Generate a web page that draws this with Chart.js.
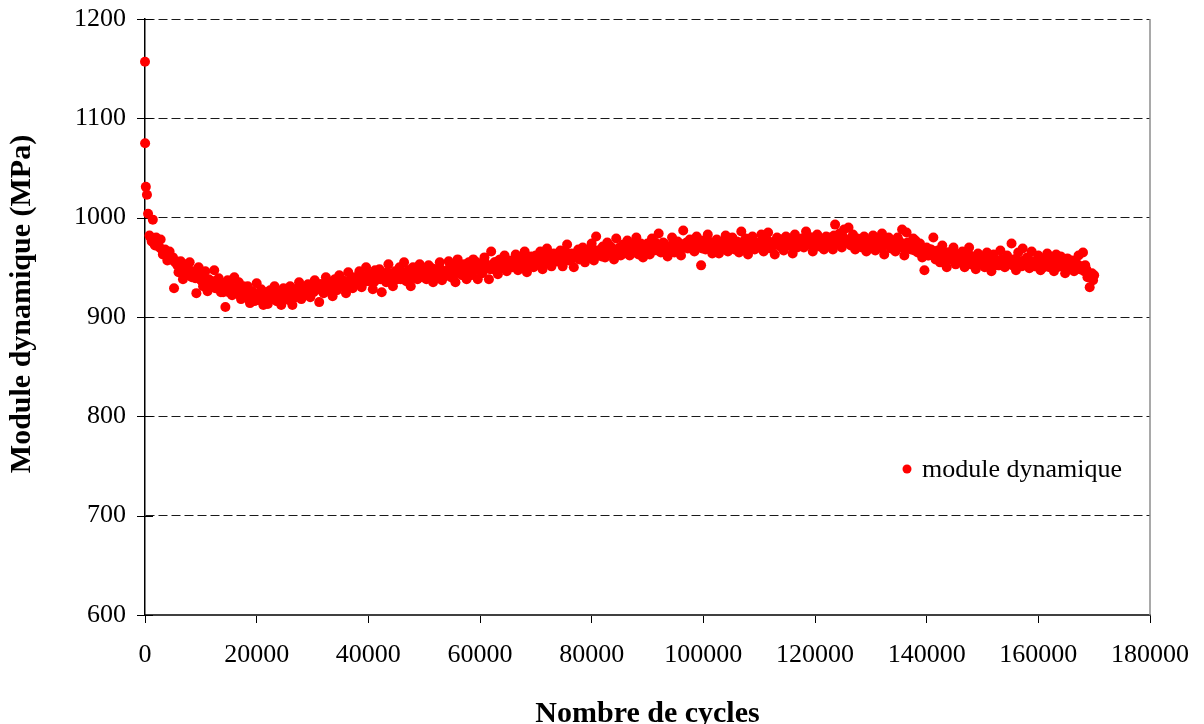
<!DOCTYPE html>
<html>
<head>
<meta charset="utf-8">
<script src="https://cdn.jsdelivr.net/npm/chart.js@4/dist/chart.umd.min.js"></script>
<style>
  html, body { margin: 0; padding: 0; background: #fff; }
  canvas { display: block; }
</style>
</head>
<body>
<canvas id="moduleChart" width="1204" height="724"></canvas>
<script>
// Nombre de cycles (x) and module dynamique in MPa (y)
// first pass: the spread of the cloud
const cyclesA = [
    0, 20, 150, 350, 550, 800, 1000, 1200, 1400, 1600, 1800,
    2000, 2400, 2800, 3200, 3600, 4000, 4400, 4800, 5200, 5600,
    6000, 6400, 6800, 7200, 7600, 8000, 8400, 8800, 9200, 9600,
    10000, 10400, 10800, 11200, 11600, 12000, 12400, 12800, 13200, 13600,
    14000, 14400, 14800, 15200, 15600, 16000, 16400, 16800, 17200, 17600,
    18000, 18400, 18800, 19200, 19600, 20000, 20400, 20800, 21200, 21600,
    22000, 22400, 22800, 23200, 23600, 24000, 24400, 24800, 25200, 25600,
    26000, 26400, 26800, 27200, 27600, 28000, 28400, 28800, 29200, 29600,
    30000, 30400, 30800, 31200, 31600, 32000, 32400, 32800, 33200, 33600,
    34000, 34400, 34800, 35200, 35600, 36000, 36400, 36800, 37200, 37600,
    38000, 38400, 38800, 39200, 39600, 40000, 40400, 40800, 41200, 41600,
    42000, 42400, 42800, 43200, 43600, 44000, 44400, 44800, 45200, 45600,
    46000, 46400, 46800, 47200, 47600, 48000, 48400, 48800, 49200, 49600,
    50000, 50400, 50800, 51200, 51600, 52000, 52400, 52800, 53200, 53600,
    54000, 54400, 54800, 55200, 55600, 56000, 56400, 56800, 57200, 57600,
    58000, 58400, 58800, 59200, 59600, 60000, 60400, 60800, 61200, 61600,
    62000, 62400, 62800, 63200, 63600, 64000, 64400, 64800, 65200, 65600,
    66000, 66400, 66800, 67200, 67600, 68000, 68400, 68800, 69200, 69600,
    70000, 70400, 70800, 71200, 71600, 72000, 72400, 72800, 73200, 73600,
    74000, 74400, 74800, 75200, 75600, 76000, 76400, 76800, 77200, 77600,
    78000, 78400, 78800, 79200, 79600, 80000, 80400, 80800, 81200, 81600,
    82000, 82400, 82800, 83200, 83600, 84000, 84400, 84800, 85200, 85600,
    86000, 86400, 86800, 87200, 87600, 88000, 88400, 88800, 89200, 89600,
    90000, 90400, 90800, 91200, 91600, 92000, 92400, 92800, 93200, 93600,
    94000, 94400, 94800, 95200, 95600, 96000, 96400, 96800, 97200, 97600,
    98000, 98400, 98800, 99200, 99600, 100000, 100400, 100800, 101200, 101600,
    102000, 102400, 102800, 103200, 103600, 104000, 104400, 104800, 105200, 105600,
    106000, 106400, 106800, 107200, 107600, 108000, 108400, 108800, 109200, 109600,
    110000, 110400, 110800, 111200, 111600, 112000, 112400, 112800, 113200, 113600,
    114000, 114400, 114800, 115200, 115600, 116000, 116400, 116800, 117200, 117600,
    118000, 118400, 118800, 119200, 119600, 120000, 120400, 120800, 121200, 121600,
    122000, 122400, 122800, 123200, 123600, 124000, 124400, 124800, 125200, 125600,
    126000, 126400, 126800, 127200, 127600, 128000, 128400, 128800, 129200, 129600,
    130000, 130400, 130800, 131200, 131600, 132000, 132400, 132800, 133200, 133600,
    134000, 134400, 134800, 135200, 135600, 136000, 136400, 136800, 137200, 137600,
    138000, 138400, 138800, 139200, 139600, 140000, 140400, 140800, 141200, 141600,
    142000, 142400, 142800, 143200, 143600, 144000, 144400, 144800, 145200, 145600,
    146000, 146400, 146800, 147200, 147600, 148000, 148400, 148800, 149200, 149600,
    150000, 150400, 150800, 151200, 151600, 152000, 152400, 152800, 153200, 153600,
    154000, 154400, 154800, 155200, 155600, 156000, 156400, 156800, 157200, 157600,
    158000, 158400, 158800, 159200, 159600, 160000, 160400, 160800, 161200, 161600,
    162000, 162400, 162800, 163200, 163600, 164000, 164400, 164800, 165200, 165600,
    166000, 166400, 166800, 167200, 167600, 168000, 168400, 168800, 169200, 169600,
    170000
];
const modulusA = [
    1157, 1075, 1031, 1023, 1004, 982, 980, 976, 998, 974, 972,
    980, 972, 978, 963, 968, 957, 966, 958, 929, 956,
    945, 956, 938, 951, 943, 955, 940, 946, 924, 950,
    941, 931, 946, 926, 937, 932, 947, 929, 939, 925,
    925, 910, 937, 933, 922, 940, 927, 935, 918, 931,
    925, 931, 914, 926, 916, 934, 921, 928, 912, 925,
    913, 927, 918, 931, 916, 924, 912, 929, 920, 926,
    931, 912, 928, 922, 935, 918, 929, 924, 933, 920,
    926, 937, 931, 915, 933, 924, 940, 928, 935, 921,
    938, 927, 942, 931, 936, 924, 945, 933, 929, 940,
    935, 946, 930, 941, 950, 936, 943, 928, 947, 939,
    948, 925, 944, 935, 953, 940, 931, 946, 938, 950,
    940, 955, 936, 947, 931, 950, 944, 938, 953, 941,
    949, 938, 952, 943, 935, 948, 940, 955, 937, 946,
    944, 956, 940, 951, 935, 958, 947, 942, 953, 938,
    955, 942, 958, 947, 938, 953, 944, 960, 949, 938,
    966, 948, 955, 943, 958, 950, 962, 946, 953, 957,
    951, 963, 947, 958, 952, 966, 945, 957, 961, 950,
    962, 953, 966, 948, 959, 969, 955, 951, 964, 957,
    956, 967, 951, 962, 973, 958, 964, 950, 961, 968,
    959, 970, 955, 966, 961, 974, 957, 981, 963, 968,
    971, 960, 975, 964, 968, 958, 979, 966, 962, 973,
    965, 977, 962, 972, 968, 980, 963, 974, 960, 970,
    974, 963, 979, 967, 972, 984, 965, 975, 969, 961,
    968, 980, 965, 975, 971, 962, 987, 974, 969, 978,
    975, 966, 981, 970, 952, 977, 968, 983, 972, 964,
    969, 978, 964, 975, 971, 982, 966, 974, 980, 968,
    976, 965, 986, 970, 979, 963, 974, 981, 968, 975,
    971, 983, 966, 978, 985, 969, 975, 963, 980, 972,
    978, 967, 981, 972, 976, 964, 983, 970, 974, 979,
    970, 986, 973, 980, 966, 977, 983, 971, 975, 968,
    981, 972, 978, 968, 993, 975, 984, 970, 988, 976,
    990, 972, 983, 968, 979, 974, 970, 981, 966, 977,
    972, 982, 967, 978, 970, 984, 963, 975, 980, 969,
    976, 966, 980, 970, 988, 962, 985, 973, 968, 979,
    977, 965, 974, 960, 947, 970, 962, 968, 980, 958,
    967, 955, 972, 960, 950, 965, 958, 970, 953, 963,
    956, 966, 950, 962, 970, 953, 959, 948, 964, 957,
    961, 950, 965, 955, 946, 963, 957, 952, 967, 954,
    950, 962, 955, 974, 958, 947, 965, 953, 969, 956,
    960, 949, 966, 955, 951, 962, 947, 958, 953, 964,
    950, 958, 946, 963, 955, 961, 952, 944, 959, 955,
    957, 946, 953, 962, 949, 965, 952, 940, 930, 944,
    942
];
// second pass: the dense core of the band
const cyclesB = [
    2200, 2600, 3000, 3400, 3800, 4200, 4600, 5000, 5400, 5800,
    6200, 6600, 7000, 7400, 7800, 8200, 8600, 9000, 9400, 9800,
    10200, 10600, 11000, 11400, 11800, 12200, 12600, 13000, 13400, 13800,
    14200, 14600, 15000, 15400, 15800, 16200, 16600, 17000, 17400, 17800,
    18200, 18600, 19000, 19400, 19800, 20200, 20600, 21000, 21400, 21800,
    22200, 22600, 23000, 23400, 23800, 24200, 24600, 25000, 25400, 25800,
    26200, 26600, 27000, 27400, 27800, 28200, 28600, 29000, 29400, 29800,
    30200, 30600, 31000, 31400, 31800, 32200, 32600, 33000, 33400, 33800,
    34200, 34600, 35000, 35400, 35800, 36200, 36600, 37000, 37400, 37800,
    38200, 38600, 39000, 39400, 39800, 40200, 40600, 41000, 41400, 41800,
    42200, 42600, 43000, 43400, 43800, 44200, 44600, 45000, 45400, 45800,
    46200, 46600, 47000, 47400, 47800, 48200, 48600, 49000, 49400, 49800,
    50200, 50600, 51000, 51400, 51800, 52200, 52600, 53000, 53400, 53800,
    54200, 54600, 55000, 55400, 55800, 56200, 56600, 57000, 57400, 57800,
    58200, 58600, 59000, 59400, 59800, 60200, 60600, 61000, 61400, 61800,
    62200, 62600, 63000, 63400, 63800, 64200, 64600, 65000, 65400, 65800,
    66200, 66600, 67000, 67400, 67800, 68200, 68600, 69000, 69400, 69800,
    70200, 70600, 71000, 71400, 71800, 72200, 72600, 73000, 73400, 73800,
    74200, 74600, 75000, 75400, 75800, 76200, 76600, 77000, 77400, 77800,
    78200, 78600, 79000, 79400, 79800, 80200, 80600, 81000, 81400, 81800,
    82200, 82600, 83000, 83400, 83800, 84200, 84600, 85000, 85400, 85800,
    86200, 86600, 87000, 87400, 87800, 88200, 88600, 89000, 89400, 89800,
    90200, 90600, 91000, 91400, 91800, 92200, 92600, 93000, 93400, 93800,
    94200, 94600, 95000, 95400, 95800, 96200, 96600, 97000, 97400, 97800,
    98200, 98600, 99000, 99400, 99800, 100200, 100600, 101000, 101400, 101800,
    102200, 102600, 103000, 103400, 103800, 104200, 104600, 105000, 105400, 105800,
    106200, 106600, 107000, 107400, 107800, 108200, 108600, 109000, 109400, 109800,
    110200, 110600, 111000, 111400, 111800, 112200, 112600, 113000, 113400, 113800,
    114200, 114600, 115000, 115400, 115800, 116200, 116600, 117000, 117400, 117800,
    118200, 118600, 119000, 119400, 119800, 120200, 120600, 121000, 121400, 121800,
    122200, 122600, 123000, 123400, 123800, 124200, 124600, 125000, 125400, 125800,
    126200, 126600, 127000, 127400, 127800, 128200, 128600, 129000, 129400, 129800,
    130200, 130600, 131000, 131400, 131800, 132200, 132600, 133000, 133400, 133800,
    134200, 134600, 135000, 135400, 135800, 136200, 136600, 137000, 137400, 137800,
    138200, 138600, 139000, 139400, 139800, 140200, 140600, 141000, 141400, 141800,
    142200, 142600, 143000, 143400, 143800, 144200, 144600, 145000, 145400, 145800,
    146200, 146600, 147000, 147400, 147800, 148200, 148600, 149000, 149400, 149800,
    150200, 150600, 151000, 151400, 151800, 152200, 152600, 153000, 153400, 153800,
    154200, 154600, 155000, 155400, 155800, 156200, 156600, 157000, 157400, 157800,
    158200, 158600, 159000, 159400, 159800, 160200, 160600, 161000, 161400, 161800,
    162200, 162600, 163000, 163400, 163800, 164200, 164600, 165000, 165400, 165800,
    166200, 166600, 167000, 167400, 167800, 168200, 168600, 169000, 169400, 169800
];
const modulusB = [
    975, 970, 968, 966, 962, 964, 958, 960, 955, 952,
    950, 946, 953, 944, 948, 941, 945, 939, 944, 938,
    936, 940, 933, 938, 931, 936, 929, 934, 930, 933,
    928, 932, 925, 930, 924, 929, 927, 922, 928, 924,
    922, 918, 925, 919, 923, 917, 921, 916, 922, 918,
    917, 922, 919, 924, 916, 921, 918, 923, 920, 917,
    921, 926, 920, 925, 923, 928, 922, 927, 924, 929,
    925, 930, 928, 933, 926, 931, 929, 934, 927, 932,
    930, 935, 933, 937, 931, 936, 934, 939, 932, 937,
    936, 940, 934, 939, 942, 937, 940, 935, 941, 938,
    938, 943, 940, 945, 937, 942, 939, 944, 941, 938,
    940, 945, 942, 947, 939, 944, 941, 946, 943, 940,
    942, 947, 944, 949, 941, 946, 943, 948, 945, 942,
    945, 950, 947, 952, 944, 949, 946, 951, 948, 945,
    948, 953, 950, 955, 947, 952, 949, 954, 951, 948,
    950, 955, 952, 957, 949, 954, 951, 956, 953, 950,
    953, 958, 955, 960, 952, 957, 954, 959, 956, 953,
    956, 961, 958, 963, 955, 960, 957, 962, 959, 956,
    958, 963, 960, 965, 957, 962, 959, 964, 961, 958,
    961, 966, 963, 968, 960, 965, 962, 967, 964, 961,
    964, 969, 966, 971, 963, 968, 965, 970, 967, 964,
    966, 971, 968, 973, 965, 970, 967, 972, 969, 966,
    968, 973, 970, 975, 967, 972, 969, 974, 971, 968,
    969, 974, 971, 976, 968, 973, 970, 975, 972, 969,
    970, 975, 972, 977, 969, 974, 971, 976, 973, 970,
    969, 974, 971, 976, 968, 973, 970, 975, 972, 969,
    970, 975, 972, 977, 969, 974, 971, 976, 973, 970,
    971, 976, 973, 978, 970, 975, 972, 977, 974, 971,
    972, 977, 974, 979, 971, 976, 973, 978, 975, 972,
    973, 978, 975, 980, 972, 977, 974, 979, 976, 973,
    975, 980, 977, 982, 974, 979, 976, 981, 978, 975,
    978, 973, 980, 975, 977, 972, 979, 974, 976, 971,
    977, 972, 979, 974, 976, 971, 978, 973, 975, 970,
    976, 971, 977, 972, 974, 969, 975, 970, 972, 967,
    971, 966, 969, 964, 967, 962, 968, 963, 966, 961,
    966, 961, 964, 959, 965, 960, 963, 958, 962, 957,
    963, 958, 961, 956, 962, 957, 960, 955, 959, 954,
    960, 955, 958, 953, 959, 954, 957, 952, 958, 953,
    959, 954, 957, 952, 958, 953, 956, 951, 957, 952,
    958, 953, 956, 951, 957, 952, 955, 950, 956, 951,
    957, 952, 955, 950, 956, 951, 954, 949, 955, 950,
    955, 950, 953, 948, 951, 946, 948, 943, 940, 937
];
const xTicks = [0, 20000, 40000, 60000, 80000, 100000, 120000, 140000, 160000, 180000];
const yTicks = [600, 700, 800, 900, 1000, 1100, 1200];
const seriesLabel = 'module dynamique';
const xTitle = 'Nombre de cycles';
const yTitle = 'Module dynamique (MPa)';

const serif = '"Liberation Serif", "Times New Roman", serif';

const points = cyclesA.map((c, i) => ({ x: c, y: modulusA[i] }))
    .concat(cyclesB.map((c, i) => ({ x: c, y: modulusB[i] })));

// axis titles, crossing y ticks, right border and the legend box
const decorPlugin = {
    id: 'decor',
    beforeDatasetsDraw(chart) {
        const { ctx, chartArea: a, scales: { y } } = chart;
        ctx.save();
        ctx.strokeStyle = '#8c8c8c';
        ctx.lineWidth = 1.5;
        ctx.beginPath();
        ctx.moveTo(a.right, a.top);
        ctx.lineTo(a.right, a.bottom);
        ctx.stroke();

        ctx.strokeStyle = '#000';
        ctx.lineWidth = 1;
        ctx.beginPath();
        yTicks.forEach(v => {
            const py = Math.round(y.getPixelForValue(v)) + 0.5;
            ctx.moveTo(a.left - 8, py);
            ctx.lineTo(a.left + 8, py);
        });
        ctx.stroke();
        ctx.restore();
    },
    afterDraw(chart) {
        const { ctx, chartArea: a } = chart;
        ctx.save();
        ctx.fillStyle = '#000';
        ctx.font = 'bold 30px ' + serif;
        ctx.textAlign = 'center';
        ctx.textBaseline = 'alphabetic';
        ctx.fillText(xTitle, (a.left + a.right) / 2, 722);

        ctx.translate(30, (a.top + a.bottom) / 2 - 13);
        ctx.rotate(-Math.PI / 2);
        ctx.fillText(yTitle, 0, 0);
        ctx.restore();

        // legend
        ctx.save();
        ctx.fillStyle = '#ff0000';
        ctx.beginPath();
        ctx.arc(a.left + 762, 469, 4.5, 0, Math.PI * 2);
        ctx.fill();
        ctx.fillStyle = '#000';
        ctx.font = '26px ' + serif;
        ctx.textAlign = 'left';
        ctx.textBaseline = 'alphabetic';
        ctx.fillText(seriesLabel, a.left + 777, 477);
        ctx.restore();
    }
};

new Chart(document.getElementById('moduleChart'), {
    type: 'scatter',
    data: {
        datasets: [{
            label: seriesLabel,
            data: points,
            backgroundColor: '#ff0000',
            borderWidth: 0,
            pointRadius: 5,
            pointHoverRadius: 5,
            clip: false
        }]
    },
    options: {
        responsive: false,
        animation: false,
        events: [],
        layout: { padding: { top: 19, right: 54, left: 0, bottom: 0 } },
        plugins: {
            legend: { display: false },
            tooltip: { enabled: false }
        },
        scales: {
            x: {
                type: 'linear',
                min: 0,
                max: 180000,
                afterBuildTicks: s => { s.ticks = xTicks.map(v => ({ value: v })); },
                afterFit: s => { s.height = 109; s.paddingLeft = 0; s.paddingRight = 0; },
                ticks: {
                    color: '#000',
                    font: { family: serif, size: 26 },
                    padding: 17,
                    maxRotation: 0,
                    autoSkip: false,
                    callback: v => String(v)
                },
                grid: { drawOnChartArea: false, tickLength: 8, tickColor: '#000', tickWidth: 1 },
                border: { color: '#404040', width: 2 }
            },
            y: {
                type: 'linear',
                min: 600,
                max: 1200,
                afterBuildTicks: s => { s.ticks = yTicks.map(v => ({ value: v })); },
                afterFit: s => { s.width = 145; s.paddingTop = 0; s.paddingBottom = 0; },
                ticks: {
                    color: '#000',
                    font: { family: serif, size: 26 },
                    padding: 19,
                    callback: v => String(v)
                },
                grid: { drawTicks: false, color: '#1a1a1a', lineWidth: 1 },
                border: { color: '#000', width: 1.5, dash: [9, 4] }
            }
        }
    },
    plugins: [decorPlugin]
});
</script>
</body>
</html>
